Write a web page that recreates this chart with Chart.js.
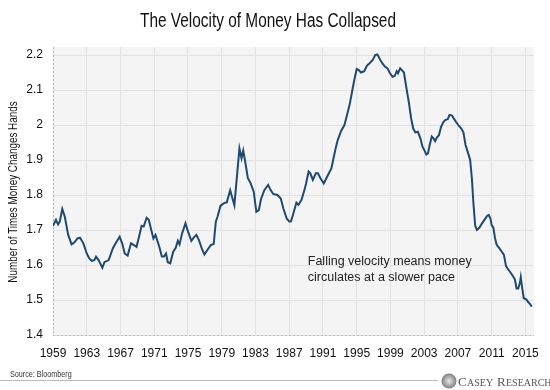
<!DOCTYPE html>
<html>
<head>
<meta charset="utf-8">
<script src="https://cdn.jsdelivr.net/npm/chart.js@4.4.1/dist/chart.umd.min.js"></script>
<style>
  html, body { margin: 0; padding: 0; background: #fff; }
  #wrap { width: 550px; height: 390px; position: relative; }
</style>
</head>
<body>
<div id="wrap"><canvas id="velocity" width="550" height="390"></canvas></div>
<script>
// M2 velocity (decimal year, value)
var years = [
  1959.0, 1959.35, 1959.6, 1959.8, 1960.1, 1960.4, 1960.8, 1961.2, 1961.55, 1961.9,
  1962.2, 1962.6, 1963.0, 1963.3, 1963.6, 1963.9, 1964.1, 1964.4, 1964.85, 1965.1,
  1965.6, 1966.1, 1966.5, 1966.9, 1967.2, 1967.5, 1967.85, 1968.25, 1968.6, 1968.9,
  1969.2, 1969.5, 1969.75, 1970.1, 1970.35, 1970.7, 1970.9, 1971.15, 1971.6, 1971.9,
  1972.15, 1972.4, 1972.6, 1972.9, 1973.25, 1973.55, 1973.8, 1974.0, 1974.3, 1974.7,
  1975.0, 1975.4, 1975.7, 1976.0, 1976.3, 1976.7, 1976.95, 1977.3, 1977.7, 1978.05,
  1978.3, 1978.5, 1978.85, 1979.1, 1979.4, 1979.6, 1980.0, 1980.5, 1981.1, 1981.35,
  1981.55, 1981.75, 1982.1, 1982.4, 1982.8, 1983.1, 1983.4, 1983.65, 1984.05, 1984.5,
  1984.8, 1985.1, 1985.6, 1986.0, 1986.3, 1986.7, 1987.0, 1987.2, 1987.5, 1987.85,
  1988.1, 1988.45, 1988.8, 1989.0, 1989.3, 1989.5, 1989.8, 1990.15, 1990.4, 1990.7,
  1991.1, 1991.4, 1991.7, 1992.0, 1992.25, 1992.5, 1992.75, 1993.15, 1993.55, 1993.8,
  1994.15, 1994.45, 1994.75, 1995.0, 1995.25, 1995.5, 1995.9, 1996.2, 1996.5, 1996.9,
  1997.2, 1997.45, 1997.7, 1998.05, 1998.35, 1998.65, 1998.95, 1999.25, 1999.5, 1999.75,
  1999.9, 2000.15, 2000.35, 2000.6, 2000.9, 2001.2, 2001.45, 2001.7, 2001.95, 2002.25,
  2002.55, 2002.8, 2003.0, 2003.25, 2003.45, 2003.65, 2003.9, 2004.1, 2004.3, 2004.5,
  2004.75, 2005.0, 2005.25, 2005.5, 2005.8, 2006.0, 2006.3, 2006.5, 2006.8, 2007.1,
  2007.4, 2007.65, 2007.9, 2008.15, 2008.45, 2008.65, 2008.85, 2009.05, 2009.25, 2009.55,
  2009.8, 2010.2, 2010.45, 2010.65, 2010.85, 2011.0, 2011.2, 2011.4, 2011.6, 2011.9,
  2012.2, 2012.45, 2012.7, 2012.95, 2013.25, 2013.55, 2013.75, 2013.95, 2014.15, 2014.35,
  2014.45, 2014.65, 2014.8, 2015.1, 2015.3, 2015.5, 2015.75
];
var velocity = [
  1.712, 1.729, 1.716, 1.724, 1.760, 1.738, 1.686, 1.659, 1.665, 1.676,
  1.678, 1.662, 1.633, 1.619, 1.612, 1.614, 1.624, 1.614, 1.592, 1.608,
  1.614, 1.648, 1.665, 1.681, 1.662, 1.633, 1.627, 1.662, 1.657, 1.652,
  1.681, 1.712, 1.710, 1.735, 1.729, 1.695, 1.676, 1.686, 1.652, 1.624,
  1.624, 1.633, 1.608, 1.605, 1.638, 1.649, 1.669, 1.659, 1.690, 1.719,
  1.696, 1.669, 1.679, 1.686, 1.671, 1.643, 1.630, 1.643, 1.657, 1.660,
  1.724, 1.738, 1.769, 1.774, 1.778, 1.779, 1.814, 1.771, 1.933, 1.905,
  1.927, 1.900, 1.848, 1.835, 1.809, 1.752, 1.757, 1.788, 1.814, 1.829,
  1.814, 1.803, 1.800, 1.790, 1.762, 1.733, 1.724, 1.724, 1.748, 1.778,
  1.772, 1.786, 1.814, 1.833, 1.867, 1.862, 1.843, 1.862, 1.862, 1.848,
  1.833, 1.848, 1.862, 1.876, 1.905, 1.933, 1.957, 1.983, 2.000, 2.024,
  2.057, 2.095, 2.133, 2.160, 2.157, 2.150, 2.154, 2.169, 2.176, 2.186,
  2.200, 2.202, 2.190, 2.176, 2.167, 2.162, 2.148, 2.138, 2.140, 2.154,
  2.148, 2.162, 2.157, 2.150, 2.105, 2.062, 2.019, 1.990, 1.979, 1.981,
  1.962, 1.938, 1.929, 1.916, 1.919, 1.943, 1.967, 1.962, 1.954, 1.964,
  1.971, 1.995, 2.008, 2.014, 2.017, 2.029, 2.027, 2.019, 2.008, 1.998,
  1.990, 1.979, 1.943, 1.924, 1.900, 1.848, 1.771, 1.712, 1.700, 1.707,
  1.717, 1.731, 1.740, 1.743, 1.733, 1.714, 1.707, 1.676, 1.657, 1.648,
  1.638, 1.629, 1.597, 1.588, 1.578, 1.567, 1.559, 1.533, 1.533, 1.549,
  1.565, 1.529, 1.505, 1.502, 1.495, 1.490, 1.481
];
var yearTicks = [1959, 1963, 1967, 1971, 1975, 1979, 1983, 1987, 1991, 1995, 1999, 2003, 2007, 2011, 2015];
var valueTicks = [1.4, 1.5, 1.6, 1.7, 1.8, 1.9, 2.0, 2.1, 2.2];
var titleText = 'The Velocity of Money Has Collapsed';
var yTitleText = 'Number of Times Money Changes Hands';
var noteLines = ["Falling velocity means money", "circulates at a slower pace"];

var sans = "'Liberation Sans', Arial, sans-serif";
var serif = "'Liberation Serif', 'DejaVu Serif', serif";

var points = years.map(function(y, i){ return {x: y, y: velocity[i]}; });

// no narrow font installed, so squeeze the text a bit
function narrowText(ctx, text, x, y, squeeze, angle){
  ctx.save();
  ctx.translate(x, y);
  if (angle) ctx.rotate(angle);
  ctx.scale(squeeze, 1);
  ctx.fillText(text, 0, 0);
  ctx.restore();
}

// grey plot background + dotted left/bottom frame
var plotBg = {
  id: 'plotBg',
  beforeDraw: function(chart){
    var a = chart.chartArea, ctx = chart.ctx;
    ctx.save();
    ctx.fillStyle = '#f4f4f4';
    ctx.fillRect(a.left, a.top, a.right - a.left, a.bottom - a.top);
    ctx.restore();
  },
  beforeDatasetsDraw: function(chart){
    var a = chart.chartArea, ctx = chart.ctx;
    ctx.save();
    ctx.strokeStyle = '#bdbdbd';
    ctx.lineWidth = 1;
    ctx.setLineDash([2, 2]);
    ctx.beginPath();
    ctx.moveTo(a.left + 0.5, a.top);
    ctx.lineTo(a.left + 0.5, a.bottom + 0.5);
    ctx.lineTo(a.right, a.bottom + 0.5);
    ctx.stroke();
    ctx.restore();
  }
};

// titles, note text, source and logo
var extras = {
  id: 'extras',
  afterDraw: function(chart){
    var ctx = chart.ctx;
    var xs = chart.scales.x, ys = chart.scales.y;
    ctx.save();
    ctx.textBaseline = 'alphabetic';
    ctx.textAlign = 'center';
    ctx.fillStyle = '#111';
    ctx.font = '20px ' + sans;
    narrowText(ctx, titleText, 268, 26.5, 0.77);

    ctx.font = '12.5px ' + sans;
    ctx.textBaseline = 'middle';
    narrowText(ctx, yTitleText, 14, 192, 0.79, -Math.PI / 2);

    ctx.fillStyle = '#222';
    ctx.font = '12.5px ' + sans;
    ctx.textAlign = 'left';
    var nx = xs.getPixelForValue(1989.2);
    ctx.fillText(noteLines[0], nx, ys.getPixelForValue(1.61));
    ctx.fillText(noteLines[1], nx, ys.getPixelForValue(1.563));

    ctx.font = '9px ' + sans;
    ctx.fillStyle = '#333';
    ctx.textBaseline = 'alphabetic';
    narrowText(ctx, 'Source: Bloomberg', 10, 377, 0.8);

    ctx.strokeStyle = '#bbb';
    ctx.lineWidth = 1;
    ctx.beginPath();
    ctx.moveTo(0, 380.5);
    ctx.lineTo(438, 380.5);
    ctx.stroke();

    // logo mark
    var grd = ctx.createRadialGradient(449, 381, 1, 449, 381, 8);
    grd.addColorStop(0, '#ddd');
    grd.addColorStop(1, '#777');
    ctx.fillStyle = grd;
    ctx.beginPath();
    ctx.arc(449, 381, 7.5, 0, Math.PI * 2);
    ctx.fill();

    ctx.fillStyle = '#555';
    ctx.font = '13px ' + serif;
    ctx.fillText('C', 458, 386);
    ctx.font = '10px ' + serif;
    ctx.fillText('ASEY', 467, 386);
    ctx.font = '13px ' + serif;
    ctx.fillText('R', 497, 386);
    ctx.font = '10px ' + serif;
    ctx.fillText('ESEARCH', 506, 386);
    ctx.restore();
  }
};

var ctx = document.getElementById('velocity').getContext('2d');
var chart = new Chart(ctx, {
  type: 'line',
  data: {
    datasets: [{
      data: points,
      borderColor: '#1f4a70',
      borderWidth: 2,
      pointRadius: 0,
      tension: 0,
      fill: false
    }]
  },
  options: {
    responsive: false,
    animation: false,
    layout: { padding: { left: 0, right: 13, top: 47, bottom: 0 } },
    plugins: {
      legend: { display: false },
      tooltip: { enabled: false },
      title: { display: false }
    },
    scales: {
      x: {
        type: 'linear',
        min: 1959,
        max: 2016,
        afterBuildTicks: function(axis){
          axis.ticks = yearTicks.map(function(v){ return {value: v}; });
        },
        afterFit: function(axis){ axis.height = 55; },
        ticks: {
          padding: 11,
          color: '#111',
          font: { family: sans, size: 12 },
          maxRotation: 0,
          autoSkip: false,
          callback: function(v){ return String(v); }
        },
        grid: { color: '#e2e2e2', lineWidth: 1, drawTicks: false },
        border: { display: false }
      },
      y: {
        min: 1.4,
        max: 2.223,
        afterBuildTicks: function(axis){
          axis.ticks = valueTicks.map(function(v){ return {value: v}; });
        },
        afterFit: function(axis){ axis.width = 53; },
        ticks: {
          padding: 10,
          color: '#111',
          font: { family: sans, size: 12 },
          callback: function(v){ return String(Math.round(v * 10) / 10); }
        },
        grid: { color: '#e2e2e2', lineWidth: 1, drawTicks: false },
        border: { display: false }
      }
    }
  },
  plugins: [plotBg, extras]
});
</script>
</body>
</html>
